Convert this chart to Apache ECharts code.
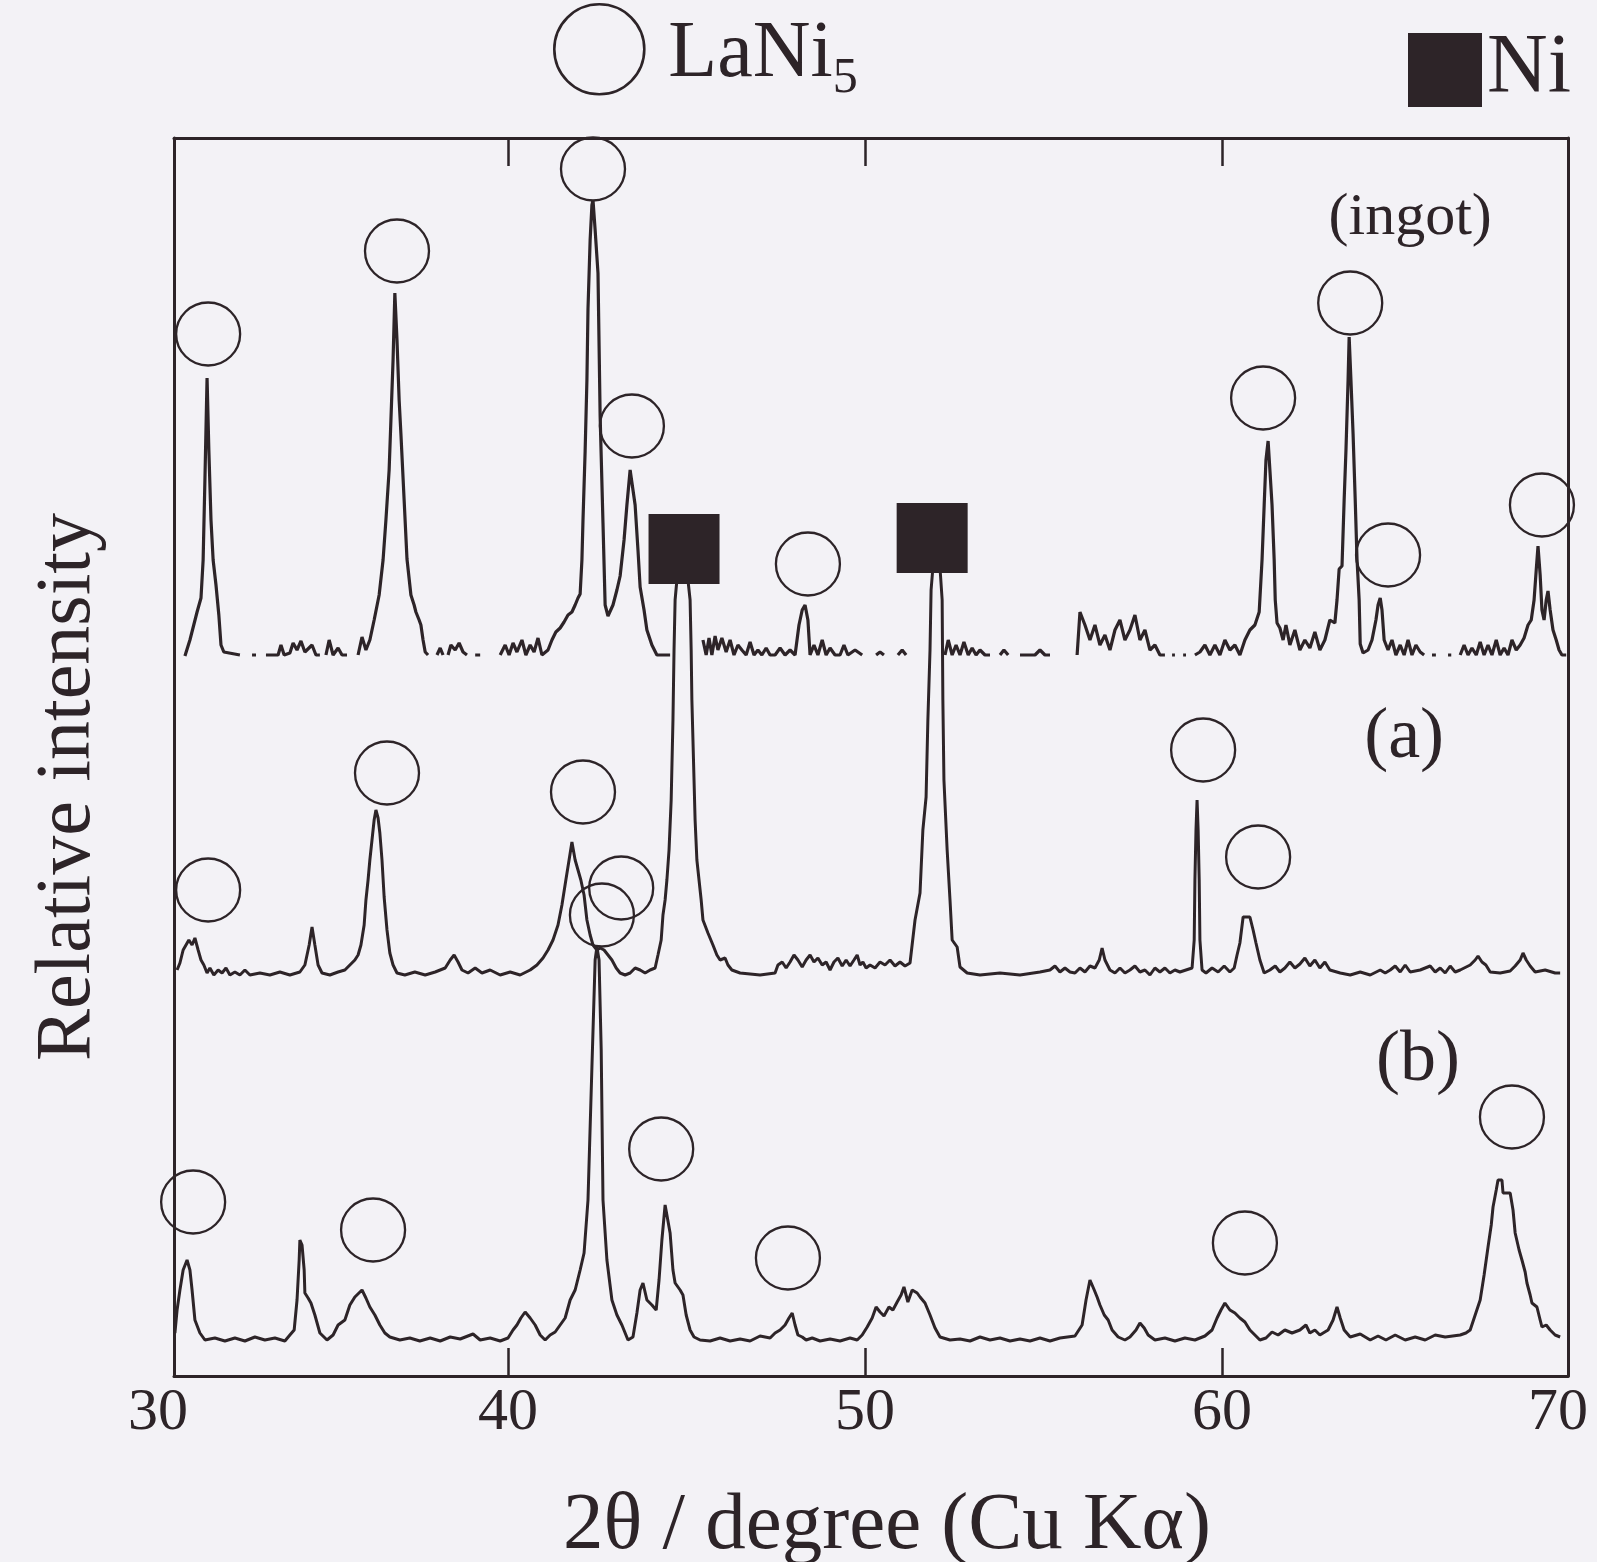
<!DOCTYPE html>
<html>
<head>
<meta charset="utf-8">
<title>XRD LaNi5</title>
<script src="https://cdn.jsdelivr.net/npm/echarts@6.0.0/dist/echarts.min.js"></script>
<style>
  html, body { margin: 0; padding: 0; background: #f3f2f6; }
  #chart { width: 1597px; height: 1562px; }
</style>
</head>
<body>
<div id="chart"></div>
<script>
// 2θ (degree) and intensity above each pattern's own baseline (arb. units), null = gap in the scan
const ingotTheta = [30.95,31.09,31.29,31.40,31.46,31.51,31.57,31.62,31.68,31.74,31.82,31.90,31.96,32.04,32.49,null,
  32.83,32.94,null,
  33.22,33.56,33.64,33.73,33.89,33.98,34.09,34.20,34.31,34.51,34.62,34.73,null,
  34.90,34.99,35.10,35.24,35.35,35.49,null,
  35.80,35.91,36.02,36.13,36.25,36.39,36.50,36.58,36.67,36.72,36.78,36.83,36.89,36.95,37.00,37.09,37.17,37.28,37.37,37.42,37.51,37.56,37.62,37.68,37.76,null,
  38.01,38.10,38.18,null,
  38.32,38.40,38.52,38.63,38.74,38.85,null,
  39.08,39.22,null,
  39.78,39.92,40.03,40.14,40.25,40.39,40.50,40.62,40.73,40.84,40.95,41.12,41.23,41.34,41.46,41.57,41.68,41.79,41.88,41.96,42.02,42.07,42.10,42.16,42.21,42.24,42.30,42.35,42.38,42.44,42.52,42.58,42.66,42.72,42.80,42.94,43.05,43.14,43.25,43.33,43.42,43.47,43.56,43.64,43.70,43.81,43.89,44.03,44.17,44.54,null,
  45.46,45.55,45.63,45.71,45.80,45.88,45.99,46.11,46.22,46.33,46.44,46.55,46.67,46.78,46.89,47.00,47.11,47.23,47.34,47.48,47.62,47.76,47.90,48.04,48.15,48.24,48.32,48.40,48.46,48.57,48.68,48.80,48.91,49.02,49.16,49.30,49.41,49.52,49.72,49.92,null,
  50.31,50.42,50.53,null,
  50.92,51.04,51.15,null,
  52.24,52.33,52.44,52.55,52.66,52.77,52.89,53.00,53.11,53.22,53.36,53.50,null,
  53.78,53.89,54.01,null,
  54.34,54.76,54.90,55.04,55.18,null,
  55.94,56.02,56.16,56.30,56.44,56.58,56.72,56.86,57.00,57.14,57.28,57.42,57.56,57.70,57.84,57.98,58.12,58.26,58.40,null,
  58.60,58.68,null,
  58.91,58.99,null,
  59.24,59.38,59.52,59.66,59.80,59.94,60.08,60.22,60.36,60.50,60.64,60.78,60.92,61.04,61.12,61.18,61.23,61.29,61.34,61.40,61.46,61.49,61.54,61.62,61.71,61.79,61.90,62.04,62.18,62.32,62.46,62.60,62.74,62.88,63.02,63.16,63.22,63.28,63.36,63.42,63.47,63.53,63.56,63.61,63.67,63.73,63.78,63.84,63.87,63.95,64.09,64.20,64.31,64.37,64.43,64.48,64.54,64.65,64.76,64.87,64.99,65.10,65.21,65.32,65.43,65.55,65.66,null,
  65.88,65.99,null,
  66.33,66.42,null,
  66.67,66.78,66.89,67.00,67.12,67.23,67.34,67.45,67.56,67.68,67.79,67.90,68.01,68.12,68.24,68.35,68.46,68.57,68.66,68.74,68.80,68.85,68.91,68.96,69.02,69.08,69.13,69.19,69.27,69.36,69.44,69.52,69.64];
const ingotI = [0,1.6,4.4,5.8,9.6,17.6,27.8,20.6,13.6,9.6,7.1,4.1,1.1,0.4,0.1,null,
  0.1,0.1,null,
  0.1,0.1,1.1,0.1,0.3,1.3,0.6,1.5,0.4,1.1,0.1,0.1,null,
  0.1,1.6,0.1,0.8,0.1,0.1,null,
  0.1,1.9,0.6,1.6,3.6,6.1,9.6,13.6,18.6,23.6,29.6,36.3,31.6,25.6,22.2,15.6,9.7,6.1,5.1,4.4,3.6,3.1,1.6,0.4,0.1,null,
  0.1,0.8,0.1,null,
  0.1,1.1,0.6,1.3,0.4,0.1,null,
  0.1,0.1,null,
  0.1,1.1,0.1,1.3,0.4,1.6,0.1,1.1,0.4,1.8,0.1,0.6,1.6,2.4,2.8,3.4,4.1,4.4,5.1,5.8,6.2,9.6,13.6,20.5,27.6,34.7,41.6,45.1,45.6,42.6,38.3,24.0,13.3,5.1,4.0,5.1,6.6,8.0,11.6,15.1,18.6,18.7,15.1,10.6,6.9,4.6,2.6,1.1,0.1,0.1,null,
  1.6,0.1,1.8,0.1,2.0,0.6,1.8,0.4,1.6,0.1,1.1,0.6,0.1,1.4,0.1,0.6,0.1,0.8,0.1,0.1,0.8,0.1,0.6,0.1,3.1,4.6,5.1,3.6,0.1,1.1,0.1,1.6,0.1,0.8,0.1,0.1,1.1,0.1,0.6,0.1,null,
  0.1,0.4,0.1,null,
  0.1,0.6,0.1,null,
  0.1,1.6,0.1,1.1,0.1,1.4,0.1,0.8,0.1,0.6,0.1,0.1,null,
  0.1,0.6,0.1,null,
  0.1,0.1,0.6,0.1,0.1,null,
  0.1,4.4,3.1,1.6,3.1,1.1,2.1,0.6,2.6,3.6,1.6,2.6,4.1,1.6,2.6,0.6,1.1,0.1,0.1,null,
  0.1,0.1,null,
  0.1,0.1,null,
  0.1,0.4,1.1,0.1,1.1,0.1,1.6,0.6,1.1,0.1,1.6,2.6,3.1,4.4,9.6,15.1,19.6,21.5,18.6,15.1,9.6,5.6,3.3,2.8,1.6,3.1,1.1,2.6,0.6,1.6,0.8,2.4,0.6,1.6,3.6,3.3,5.6,8.7,9.0,15.6,20.5,27.6,31.9,27.6,22.2,15.6,9.7,5.6,1.2,0.3,0.6,1.6,3.6,5.1,5.8,4.6,1.6,0.6,1.6,0.1,1.1,0.1,1.6,0.1,1.1,0.4,0.1,null,
  0.1,0.1,null,
  0.1,0.1,null,
  0.1,1.1,0.1,0.8,0.1,1.4,0.1,1.1,0.1,1.6,0.1,0.8,0.1,1.6,0.6,1.1,1.8,3.1,3.6,5.6,8.6,11.0,8.1,4.6,3.6,5.6,6.5,4.6,2.6,1.6,0.6,0.1,0.1];

const aTheta = [30.73,30.81,30.90,30.98,31.06,31.15,31.23,31.32,31.40,31.48,31.57,31.65,31.76,31.88,31.99,32.10,32.21,32.35,32.49,32.63,32.77,33.05,33.33,33.61,33.89,34.17,34.31,34.43,34.51,34.59,34.68,34.79,35.01,35.24,35.43,35.57,35.71,35.80,35.88,35.97,36.02,36.08,36.13,36.19,36.25,36.30,36.36,36.41,36.47,36.53,36.61,36.69,36.78,36.89,37.11,37.39,37.68,37.96,38.24,38.38,38.49,38.60,38.71,38.88,39.08,39.27,39.50,39.78,40.06,40.34,40.62,40.81,40.98,41.12,41.26,41.40,41.51,41.62,41.71,41.79,41.88,41.96,42.04,42.13,42.21,42.30,42.38,42.49,42.58,42.69,42.80,42.91,43.03,43.14,43.28,43.42,43.56,43.70,43.84,43.98,44.12,44.20,44.29,44.34,44.40,44.45,44.51,44.57,44.62,44.65,44.68,44.73,44.87,45.04,45.10,45.13,45.15,45.21,45.24,45.29,45.35,45.41,45.46,45.60,45.74,45.85,45.94,46.08,46.16,46.27,46.50,47.06,47.48,47.56,47.68,47.79,47.90,48.01,48.12,48.24,48.35,48.46,48.57,48.68,48.80,48.91,49.02,49.13,49.24,49.36,49.47,49.58,49.69,49.78,49.86,49.94,50.03,50.14,50.28,50.42,50.56,50.70,50.84,50.98,51.12,51.26,51.40,51.54,51.62,51.71,51.76,51.82,51.85,51.90,52.10,52.16,52.18,52.21,52.30,52.38,52.44,52.58,52.66,52.86,53.22,53.78,54.34,54.90,55.18,55.32,55.46,55.60,55.74,55.88,56.02,56.16,56.30,56.44,56.56,56.64,56.72,56.86,57.00,57.14,57.28,57.42,57.56,57.70,57.84,57.98,58.12,58.26,58.40,58.54,58.68,58.82,58.99,59.16,59.22,59.24,59.27,59.30,59.33,59.36,59.38,59.44,59.55,59.72,59.89,60.06,60.22,60.34,60.42,60.50,60.59,60.78,60.87,60.95,61.06,61.18,61.34,61.49,61.62,61.76,61.90,62.04,62.18,62.32,62.46,62.60,62.74,62.88,63.02,63.31,63.59,63.87,64.15,64.43,64.57,64.71,64.85,64.99,65.13,65.27,65.55,65.83,65.97,66.11,66.25,66.39,66.53,66.67,66.95,67.09,67.17,67.28,67.39,67.51,67.79,68.07,68.21,68.35,68.43,68.52,68.63,68.77,69.05,69.33,69.47];
const aI = [0.5,1.2,2.5,3.0,3.5,3.0,3.7,2.5,1.5,1.0,0.2,0.7,0,0.5,0.2,0.7,0,0.3,0,0.5,0,0.2,0,0.3,0,0.3,1.0,3.0,4.8,3.0,1.0,0.2,0,0.3,0.5,1.0,1.5,2.0,3.0,5.0,7.5,9.5,11.5,13.5,15.5,16.5,15.7,14.2,11.5,7.8,4.5,2.2,1.0,0.2,0,0.3,0,0.3,0.7,1.5,2.0,1.3,0.5,0.2,0.7,0.2,0.5,0,0.3,0,0.5,1.0,1.7,2.5,3.5,5.0,7.0,9.5,11.5,13.3,11.5,10.5,9.5,8.0,5.5,4.0,3.0,2.5,2.7,2.5,2.0,1.5,0.7,0.2,0,0.2,0.7,0.5,0.2,0.5,0.7,2.0,3.5,6.0,7.5,9.5,12.5,17.5,25.5,32.5,37.5,39.5,39.7,39.5,37.5,32.5,27.5,19.5,15.5,11.5,9.5,7.5,5.5,4.2,3.0,2.0,1.5,1.7,1.0,0.5,0.2,0,0.2,1.0,1.3,0.7,1.3,2.0,1.5,0.8,1.5,2.0,1.3,1.7,1.0,1.3,0.5,1.3,1.7,0.9,1.5,0.9,1.5,2.0,1.0,1.3,0.7,1.0,0.7,1.3,1.0,1.5,0.9,1.3,0.9,1.2,5.5,8.2,14.5,17.8,25.5,32.5,38.5,40.7,40.7,37.5,27.5,19.5,12.5,7.5,3.5,2.8,0.8,0.2,0,0.2,0,0.3,0.5,0.9,0.3,0.7,0.3,0.2,0.7,0.3,0.9,0.7,1.5,2.7,1.5,0.5,0.2,0.7,0.2,0.5,0.9,0.3,0.5,0,0.7,0.3,0.7,0.2,0.5,0.3,0.5,0.7,3.5,9.5,14.5,17.5,14.5,9.5,3.5,0.5,0.2,0.7,0.3,0.9,0.3,0.7,2.0,3.2,5.8,5.8,4.5,3.2,1.5,0.2,0.5,0.9,0.3,0.7,1.3,0.7,1.1,1.7,0.9,1.5,0.7,1.3,0.5,0.2,0,0.3,0,0.5,0.2,0.5,0.9,0.3,1.0,0.3,0.5,0.9,0.3,0.7,0.2,0.9,0.3,0.5,1.0,1.5,1.9,1.3,1.0,0.3,0.2,0.4,0.9,1.5,2.2,1.5,0.9,0.3,0.5,0.2,0.2];

const bTheta = [30.67,30.73,30.81,30.90,31.01,31.09,31.15,31.23,31.37,31.51,31.79,32.07,32.35,32.63,32.91,33.19,33.47,33.75,33.89,34.01,34.09,34.15,34.17,34.23,34.29,34.31,34.40,34.48,34.59,34.73,34.93,35.10,35.24,35.43,35.57,35.71,35.91,36.02,36.13,36.27,36.41,36.55,36.69,36.97,37.25,37.53,37.82,38.10,38.38,38.66,39.02,39.22,39.50,39.78,40.00,40.14,40.25,40.36,40.48,40.62,40.76,40.90,41.04,41.18,41.32,41.46,41.60,41.74,41.88,42.02,42.13,42.24,42.35,42.44,42.49,42.55,42.61,42.66,42.77,42.91,43.05,43.19,43.36,43.50,43.61,43.70,43.78,43.89,44.03,44.15,44.23,44.31,44.40,44.45,44.54,44.62,44.68,44.82,44.90,44.99,45.10,45.21,45.38,45.66,45.94,46.22,46.50,46.78,47.06,47.34,47.48,47.62,47.76,47.87,47.96,48.04,48.12,48.24,48.35,48.52,48.74,49.02,49.30,49.58,49.78,49.92,50.06,50.20,50.31,50.42,50.53,50.67,50.78,50.90,51.01,51.09,51.20,51.32,51.46,51.54,51.68,51.82,51.96,52.10,52.38,52.66,52.94,53.22,53.50,53.78,54.06,54.34,54.62,54.90,55.18,55.46,55.88,56.08,56.19,56.30,56.42,56.50,56.58,56.70,56.81,56.92,57.09,57.28,57.42,57.59,57.70,57.82,57.93,58.12,58.40,58.68,58.96,59.24,59.52,59.72,59.86,59.97,60.08,60.22,60.36,60.50,60.64,60.78,60.92,61.06,61.23,61.40,61.57,61.76,61.96,62.18,62.35,62.46,62.60,62.74,62.97,63.11,63.22,63.31,63.42,63.59,63.87,64.15,64.37,64.59,64.85,65.13,65.41,65.69,65.97,66.25,66.67,66.83,66.95,67.09,67.23,67.34,67.45,67.54,67.59,67.68,67.73,67.84,67.87,68.07,68.15,68.21,68.32,68.40,68.49,68.54,68.63,68.68,68.82,68.91,68.96,69.08,69.19,69.33,69.47];
const bI = [0.8,3.1,5.1,7.1,8.1,7.1,5.1,2.1,0.8,0.1,0.3,0,0.3,0,0.4,0.1,0.3,0,0.6,1.1,4.1,8.1,10.1,9.6,7.1,4.8,4.3,3.8,2.6,0.8,0.1,0.6,1.6,2.1,3.6,4.4,5.1,4.3,3.4,2.6,1.6,0.8,0.4,0.1,0.3,0,0.3,0,0.4,0.2,0.7,0.1,0.3,0,0.3,1.1,1.6,2.3,2.9,2.3,1.6,0.6,0.1,0.6,0.9,1.6,2.3,4.1,5.1,7.1,8.8,14.1,27.4,38.1,39.4,38.1,29.1,14.1,8.1,4.1,2.6,1.6,0.1,0.4,2.8,5.1,5.8,4.1,3.6,3.1,6.1,10.1,13.6,13.8,10.8,7.1,5.8,5.1,4.6,2.6,1.1,0.4,0.1,0,0.3,0,0.2,0,0.5,0.3,0.8,1.1,1.6,2.3,2.8,1.6,0.6,0.4,0.1,0.3,0,0.2,0,0.3,0.1,0.6,1.4,2.3,3.4,2.9,2.5,3.4,3.1,3.9,4.6,5.4,3.9,5.1,4.8,4.4,3.8,2.6,1.3,0.4,0.1,0.2,0,0.4,0.1,0.3,0,0.2,0,0.3,0,0.3,0.5,1.6,4.1,6.1,5.1,4.4,3.6,2.6,2.1,1.1,0.4,0.1,0.4,1.1,1.8,1.3,0.6,0.1,0.3,0,0.3,0.1,0.5,1.1,2.3,3.1,3.8,3.1,2.8,2.3,1.9,1.1,0.6,0.1,0.3,0.9,0.6,1.1,0.8,1.1,1.6,0.8,1.1,0.6,1.1,2.1,3.4,2.3,1.1,0.4,0.7,0.1,0.5,0.1,0.6,0.1,0.4,0.1,0.6,0.4,0.6,0.8,1.1,2.6,4.1,6.6,9.4,11.6,13.4,15.1,16.1,16.1,14.8,14.8,13.1,10.8,9.1,8.1,6.9,5.8,4.6,3.8,3.4,2.1,1.4,1.6,1.1,0.6,0.4];

// vertical offsets of the stacked patterns
const ingotOffset = 72.0;
const aOffset = 40.1;
const bOffset = 3.5;

// phase markers [2θ, stacked intensity]
const lani5Ingot = [[31.60,104.2],[36.89,112.5],[42.38,120.7],[43.47,95.0],[48.40,81.2],[61.15,97.8],[63.59,107.3],[64.65,82.1],[68.96,87.1]];
const lani5A = [[31.60,48.6],[36.61,60.3],[42.10,58.4],[43.17,48.8],[59.47,62.6],[61.01,51.9]];
const lani5B = [[31.18,17.4],[36.22,14.6],[42.63,46.1],[44.29,22.7],[47.84,11.8],[60.64,13.3],[68.12,25.9]];
const niPeaks = [[44.93,82.7],[51.88,83.8]];

// pattern labels: text, 2θ, stacked intensity, font size
const patternLabels = [['(ingot)',65.27,115.8,60],['(a)',65.10,63.8,72],['(b)',65.49,31.5,72]];

const xMin = 30.644, xMax = 69.69, yMax = 123.8;
const tickValues = [40, 50, 60];

const ink = '#2d2428';
const serif = 'Liberation Serif';

function stack(theta, inten, off) {
  return theta.map(function (t, i) {
    return (t === null || inten[i] === null) ? ['-', '-'] : [t, +(inten[i] + off).toFixed(2)];
  });
}

function trace(name, theta, inten, off, w) {
  return {
    name: name,
    type: 'line',
    data: stack(theta, inten, off),
    symbol: 'none',
    connectNulls: false,
    lineStyle: { color: ink, width: w },
    z: 2,
    silent: true
  };
}

const myChart = echarts.init(document.getElementById('chart'));

const option = {
  backgroundColor: '#f3f2f6',
  animation: false,
  textStyle: { fontFamily: serif, color: ink },
  grid: { left: 174, right: 29, top: 138, bottom: 186, containLabel: false, outerBoundsMode: 'none' },
  legend: [
    {
      data: [{ name: 'LaNi5', icon: 'circle' }],
      left: 553, top: 3, padding: 0,
      itemWidth: 90, itemHeight: 92,
      itemStyle: { color: 'rgba(0,0,0,0)', borderColor: ink, borderWidth: 2.6 },
      formatter: function () { return '{m|LaNi}{s|5}'; },
      textStyle: {
        padding: [12, 0, 0, 19],
        rich: {
          m: { fontFamily: serif, fontSize: 80, color: ink },
          s: { fontFamily: serif, fontSize: 50, color: ink, padding: [48, 0, 0, 0] }
        }
      },
      selectedMode: false
    },
    {
      data: [{ name: 'Ni', icon: 'rect' }],
      left: 1408, top: 28, padding: 0,
      itemWidth: 74, itemHeight: 74,
      itemStyle: { color: ink, borderWidth: 0 },
      textStyle: { fontFamily: serif, fontSize: 84, color: ink, padding: [0, 0, 17, 0] },
      selectedMode: false
    }
  ],
  xAxis: [
    {
      type: 'value', position: 'bottom', min: xMin, max: xMax,
      axisLine: { show: true, onZero: false, lineStyle: { color: ink, width: 3 } },
      axisTick: { show: true, inside: true, length: 28, customValues: tickValues, lineStyle: { color: ink, width: 2.5 } },
      axisLabel: {
        show: true, margin: 7, fontSize: 60, fontFamily: serif, color: ink,
        customValues: [xMin].concat(tickValues, [xMax]),
        showMinLabel: true, showMaxLabel: true,
        formatter: function (v) {
          if (v < 35) return '{l|30}';
          if (v > 65) return '{r|70}';
          return String(Math.round(v));
        },
        rich: {
          l: { fontSize: 60, fontFamily: serif, color: ink, padding: [0, 32, 0, 0] },
          r: { fontSize: 60, fontFamily: serif, color: ink, padding: [0, 20, 0, 0] }
        }
      },
      splitLine: { show: false },
      name: '2θ / degree (Cu Kα)',
      nameLocation: 'middle', nameGap: 110,
      nameTextStyle: { fontFamily: serif, fontSize: 81, color: ink, padding: [0, 0, 0, 32] }
    },
    {
      type: 'value', position: 'top', min: xMin, max: xMax,
      axisLine: { show: true, onZero: false, lineStyle: { color: ink, width: 3 } },
      axisTick: { show: true, inside: true, length: 28, customValues: tickValues, lineStyle: { color: ink, width: 2.5 } },
      axisLabel: { show: false },
      splitLine: { show: false }
    }
  ],
  yAxis: [
    {
      type: 'value', position: 'left', min: 0, max: yMax,
      axisLine: { show: true, onZero: false, lineStyle: { color: ink, width: 3 } },
      axisTick: { show: false }, axisLabel: { show: false }, splitLine: { show: false },
      name: 'Relative intensity', nameLocation: 'middle', nameGap: 66, nameRotate: 90,
      nameTextStyle: { fontFamily: serif, fontSize: 78, color: ink, padding: [0, 60, 0, 0] }
    },
    {
      type: 'value', position: 'right', min: 0, max: yMax,
      axisLine: { show: true, onZero: false, lineStyle: { color: ink, width: 3 } },
      axisTick: { show: false }, axisLabel: { show: false }, splitLine: { show: false }
    }
  ],
  series: [
    trace('ingot', ingotTheta, ingotI, ingotOffset, 3.2),
    trace('a', aTheta, aI, aOffset, 3),
    trace('b', bTheta, bI, bOffset, 3),
    {
      name: 'LaNi5', type: 'scatter',
      data: lani5Ingot.concat(lani5A, lani5B),
      symbol: 'circle', symbolSize: [64, 63],
      itemStyle: { color: 'rgba(0,0,0,0)', borderColor: ink, borderWidth: 2.3, opacity: 1 },
      z: 5, silent: true
    },
    {
      name: 'Ni', type: 'scatter',
      data: niPeaks,
      symbol: 'rect', symbolSize: [71, 70],
      itemStyle: { color: ink, opacity: 1 },
      z: 6, silent: true
    },
    {
      name: 'labels', type: 'scatter',
      data: patternLabels.map(function (p) {
        return {
          value: [p[1], p[2]], name: p[0],
          label: { fontSize: p[3], color: ink, fontFamily: serif }
        };
      }),
      symbolSize: 1,
      itemStyle: { color: 'rgba(0,0,0,0)', opacity: 1 },
      label: {
        show: true, position: 'inside',
        formatter: function (p) { return p.name; },
        fontFamily: serif, color: ink, fontSize: 66, opacity: 1
      },
      z: 7, silent: true
    }
  ]
};

myChart.setOption(option);
window.addEventListener('resize', function () { myChart.resize(); });
</script>
</body>
</html>
